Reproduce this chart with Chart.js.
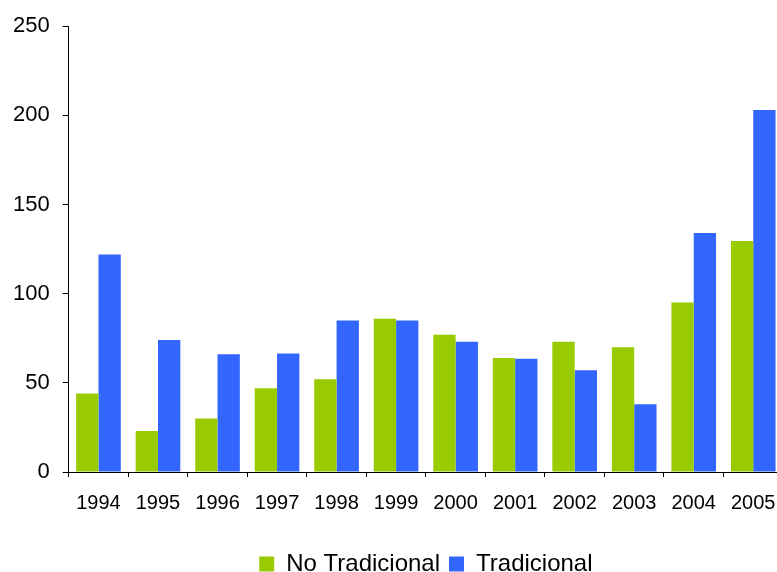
<!DOCTYPE html>
<html>
<head>
<meta charset="utf-8">
<script src="https://cdn.jsdelivr.net/npm/chart.js@4"></script>
<style>
  html, body {
    margin: 0;
    padding: 0;
    background: #ffffff;
    overflow: hidden;
    width: 777px;
    height: 572px;
  }
</style>
</head>
<body>
<canvas id="yearChart" width="790" height="586"></canvas>
<script>
const years = ["1994", "1995", "1996", "1997", "1998", "1999", "2000", "2001", "2002", "2003", "2004", "2005"];
const noTradicional = [44, 23, 30, 47, 52, 86, 77, 64, 73, 70, 95, 129.5];
const tradicional = [122, 74, 66, 66.5, 85, 85, 73, 63.5, 57, 38, 134, 203];
const yTicks = [0, 50, 100, 150, 200, 250];

const fontFamily = "'Liberation Sans', Arial, sans-serif";

new Chart(document.getElementById("yearChart"), {
  type: "bar",
  data: {
    labels: years,
    datasets: [
      {
        label: "No Tradicional",
        data: noTradicional,
        backgroundColor: "#99cc00",
        borderWidth: 0,
        categoryPercentage: 0.75,
        barPercentage: 1.0,
      },
      {
        label: "Tradicional",
        data: tradicional,
        backgroundColor: "#3366ff",
        borderWidth: 0,
        categoryPercentage: 0.75,
        barPercentage: 1.0,
      },
    ],
  },
  options: {
    responsive: false,
    animation: false,
    layout: {
      padding: { top: 12, right: 7, bottom: 0, left: 0 },
    },
    plugins: {
      tooltip: { enabled: false },
      legend: {
        position: "bottom",
        fullSize: false,
        labels: {
          color: "#000000",
          font: { family: fontFamily, size: 24 },
          boxWidth: 15,
          boxHeight: 15,
          padding: 9,
        },
      },
    },
    scales: {
      x: {
        // extra room between the year labels and the legend
        afterFit: function (scale) {
          scale.height += 14;
        },
        grid: {
          display: true,
          drawOnChartArea: false,
          offset: true,
          color: "#000000",
          tickLength: 5,
        },
        border: { color: "#000000", width: 1 },
        ticks: {
          color: "#000000",
          font: { family: fontFamily, size: 20 },
          padding: 14,
          maxRotation: 0,
        },
      },
      y: {
        min: 0,
        max: 250,
        afterBuildTicks: function (axis) {
          axis.ticks = yTicks.map((v) => ({ value: v }));
        },
        grid: {
          display: true,
          drawOnChartArea: false,
          color: "#000000",
          tickLength: 6,
        },
        border: { color: "#000000", width: 1 },
        ticks: {
          color: "#000000",
          font: { family: fontFamily, size: 22 },
          padding: 13,
        },
      },
    },
  },
});
</script>
</body>
</html>
